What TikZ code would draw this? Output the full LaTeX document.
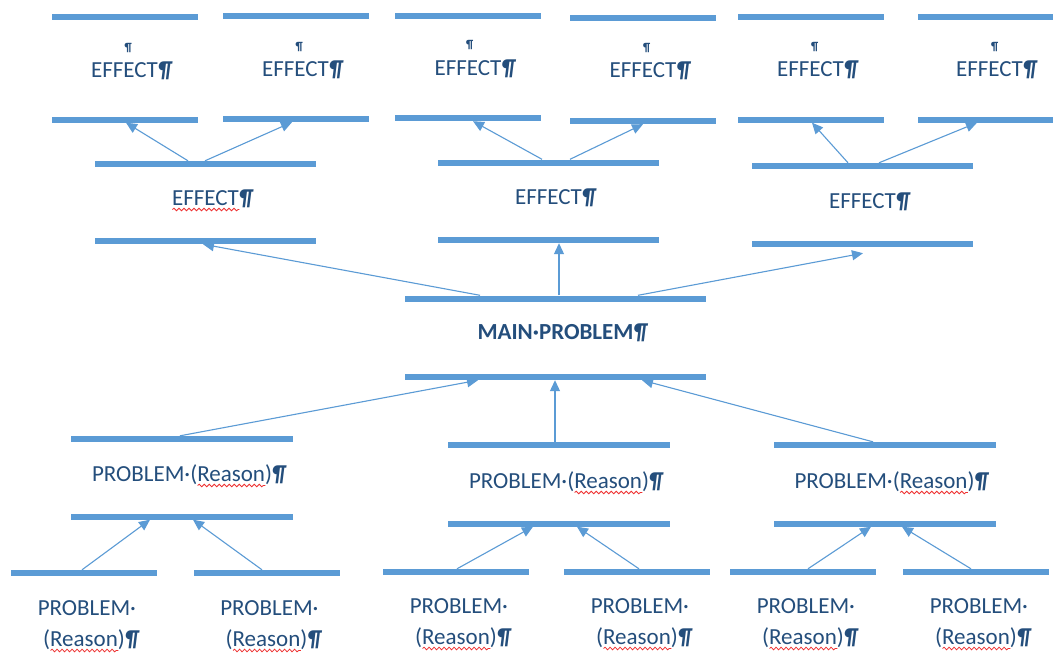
\documentclass[tikz,border=0pt]{standalone}
\usepackage{fontspec}
\setmainfont{Carlito}
\usetikzlibrary{arrows.meta,decorations.pathmorphing}

\definecolor{barblue}{RGB}{91,155,213}
\definecolor{textblue}{RGB}{36,78,124}
\definecolor{wavered}{RGB}{238,48,48}

\newsavebox\wavebox
\newcommand\spellwave[1]{\sbox\wavebox{#1}\rlap{\tikz[baseline=0pt]\draw[wavered, line width=0.8pt, decorate, decoration={snake, amplitude=1.3pt, segment length=5pt}] (0pt,-4.5pt) -- (\the\wd\wavebox,-4.5pt);}\usebox\wavebox}
\newcommand\pil{\rlap{\bfseries\itshape ¶}}
\newcommand\spc{\rlap{·}}

\tikzset{
	barline/.style={fill=barblue, inner sep=0pt, minimum height=6pt},
	txt/.style={text=textblue, inner sep=0pt, anchor=base, font=\fontsize{23}{28}\selectfont},
	pilmark/.style={text=textblue, inner sep=0pt, anchor=base west, font=\fontsize{12}{12}\selectfont\bfseries},
	link/.style={draw=barblue, line width=1.1pt, -{Triangle[length=11pt,width=10pt]}},
}

\begin{document}
\begin{tikzpicture}[x=1pt,y=-1pt]

	\useasboundingbox (0,0) rectangle (1053,670);
	\fill [white] (0,0) rectangle (1053,670);
	\clip (0,0) rectangle (1053,670);

	% effects, top row
	\node [barline, minimum width=146pt] (fx1t) at (124.5,17) {};
	\node [barline, minimum width=146pt] (fx1b) at (124.5,119.5) {};
	\node [barline, minimum width=146pt] (fx2t) at (295.5,16) {};
	\node [barline, minimum width=146pt] (fx2b) at (295.5,119) {};
	\node [barline, minimum width=146pt] (fx3t) at (468,15.5) {};
	\node [barline, minimum width=146pt] (fx3b) at (468,118) {};
	\node [barline, minimum width=146pt] (fx4t) at (643,18) {};
	\node [barline, minimum width=146pt] (fx4b) at (643,121) {};
	\node [barline, minimum width=146pt] (fx5t) at (810.5,16.5) {};
	\node [barline, minimum width=146pt] (fx5b) at (810.5,119.5) {};
	\node [barline, minimum width=146pt] (fx6t) at (991,16.5) {};
	\node [barline, minimum width=146pt] (fx6b) at (991,119.5) {};

	\node [pilmark] (fx1m) at (124.5,51) {¶};
	\node [pilmark] (fx2m) at (295.5,50) {¶};
	\node [pilmark] (fx3m) at (466,48) {¶};
	\node [pilmark] (fx4m) at (643,51) {¶};
	\node [pilmark] (fx5m) at (811,50) {¶};
	\node [pilmark] (fx6m) at (991,50) {¶};

	\node [txt] (fx1) at (124.5,77) {EFFECT\pil};
	\node [txt] (fx2) at (295.5,76) {EFFECT\pil};
	\node [txt] (fx3) at (468,75) {EFFECT\pil};
	\node [txt] (fx4) at (643,77) {EFFECT\pil};
	\node [txt] (fx5) at (810.5,76) {EFFECT\pil};
	\node [txt] (fx6) at (989.5,76) {EFFECT\pil};

	% effects, second row
	\node [barline, minimum width=221pt] (e1t) at (205.5,164) {};
	\node [barline, minimum width=221pt] (e1b) at (205.5,241) {};
	\node [barline, minimum width=221pt] (e2t) at (548.5,162.5) {};
	\node [barline, minimum width=221pt] (e2b) at (548.5,240) {};
	\node [barline, minimum width=221pt] (e3t) at (862.5,166) {};
	\node [barline, minimum width=221pt] (e3b) at (862.5,244) {};

	\node [txt] (e1) at (205.5,205) {\spellwave{EFFECT}\pil};
	\node [txt] (e2) at (548.5,204) {EFFECT\pil};
	\node [txt] (e3) at (862.5,208) {EFFECT\pil};

	% main problem
	\node [barline, minimum width=301pt] (maint) at (555.5,298.5) {};
	\node [barline, minimum width=301pt] (mainb) at (555.5,377) {};
	\node [txt, font=\fontsize{23}{28}\selectfont\bfseries] (main) at (555.5,339) {MAIN·PROBLEM\pil};

	% problems
	\node [barline, minimum width=222pt] (p1t) at (182,439) {};
	\node [barline, minimum width=222pt] (p1b) at (182,516.5) {};
	\node [barline, minimum width=222pt] (p2t) at (559,445) {};
	\node [barline, minimum width=222pt] (p2b) at (559,523.5) {};
	\node [barline, minimum width=222pt] (p3t) at (884.5,445) {};
	\node [barline, minimum width=222pt] (p3b) at (884.5,523.5) {};

	\node [txt] (p1) at (182,481) {PROBLEM·(\spellwave{Reason})\pil};
	\node [txt] (p2) at (559,488) {PROBLEM·(\spellwave{Reason})\pil};
	\node [txt] (p3) at (884.5,488) {PROBLEM·(\spellwave{Reason})\pil};

	% reasons, bottom row
	\node [barline, minimum width=146pt] (b1t) at (84,573) {};
	\node [barline, minimum width=146pt] (b2t) at (266.5,573) {};
	\node [barline, minimum width=146pt] (b3t) at (456,572) {};
	\node [barline, minimum width=146pt] (b4t) at (637,572) {};
	\node [barline, minimum width=146pt] (b5t) at (803,572) {};
	\node [barline, minimum width=146pt] (b6t) at (976,572) {};

	\node [txt] (b1) at (84,615) {PROBLEM\spc};
	\node [txt] (b1r) at (84,646) {(\spellwave{Reason})\pil};
	\node [txt] (b2) at (266.5,615) {PROBLEM\spc};
	\node [txt] (b2r) at (266.5,646) {(\spellwave{Reason})\pil};
	\node [txt] (b3) at (456,613) {PROBLEM\spc};
	\node [txt] (b3r) at (456,644) {(\spellwave{Reason})\pil};
	\node [txt] (b4) at (637,613) {PROBLEM\spc};
	\node [txt] (b4r) at (637,644) {(\spellwave{Reason})\pil};
	\node [txt] (b5) at (803,613) {PROBLEM\spc};
	\node [txt] (b5r) at (803,644) {(\spellwave{Reason})\pil};
	\node [txt] (b6) at (976,613) {PROBLEM\spc};
	\node [txt] (b6r) at (976,644) {(\spellwave{Reason})\pil};

	% arrows up to the effects
	\draw [link] ([xshift=-17.5]e1t.north) -- ([xshift=1.5]fx1b.south);
	\draw [link] ([xshift=-0.5]e1t.north) -- ([xshift=-3.5]fx2b.south);
	\draw [link] ([xshift=-6.5]e2t.north) -- ([xshift=5]fx3b.south);
	\draw [link] ([xshift=21.5]e2t.north) -- (fx4b.south);
	\draw [link] ([xshift=-14.5]e3t.north) -- ([xshift=1.5]fx5b.south);
	\draw [link] ([xshift=16.5]e3t.north) -- ([xshift=-14]fx6b.south);

	\draw [link] ([xshift=-75.5]maint.north) -- ([xshift=-2.5]e1b.south);
	\draw [link] ([xshift=3.5]maint.north) -- ([xshift=10.5]e2b.south);
	\draw [link] ([xshift=82.5]maint.north) -- ([xshift=0.5,yshift=-6]e3b.south);

	% arrows up to the main problem
	\draw [link] ([xshift=-2]p1t.north) -- ([xshift=-77.5]mainb.south);
	\draw [link] ([xshift=-4]p2t.north) -- ([xshift=-0.5]mainb.south);
	\draw [link] ([xshift=-11.5]p3t.north) -- ([xshift=86.5]mainb.south);

	\draw [link] ([xshift=-2]b1t.north) -- ([xshift=-32]p1b.south);
	\draw [link] ([xshift=-4.5]b2t.north) -- ([xshift=11]p1b.south);
	\draw [link] ([xshift=1]b3t.north) -- ([xshift=-26]p2b.south);
	\draw [link] ([xshift=2]b4t.north) -- ([xshift=18]p2b.south);
	\draw [link] ([xshift=5]b5t.north) -- ([xshift=-13.5]p3b.south);
	\draw [link] ([xshift=-5]b6t.north) -- ([xshift=17.5]p3b.south);

\end{tikzpicture}
\end{document}
